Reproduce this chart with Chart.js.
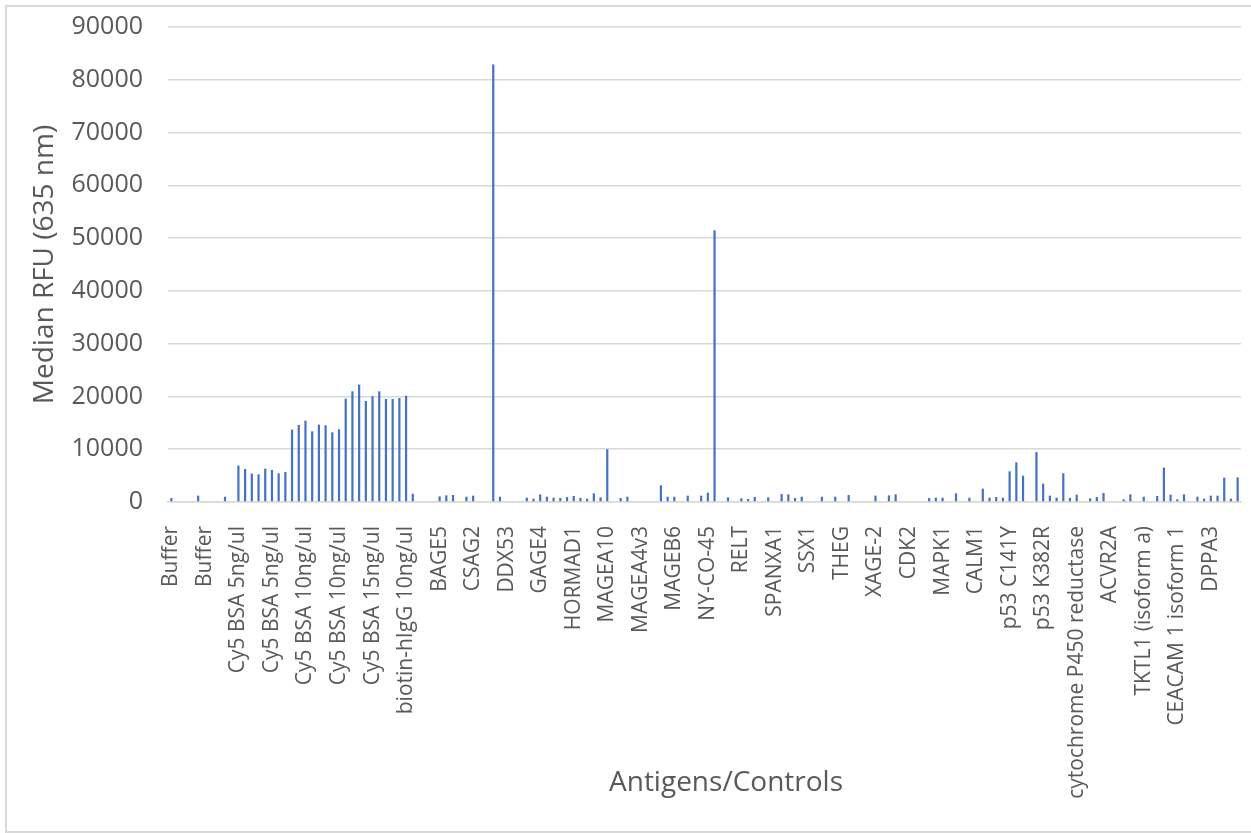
<!DOCTYPE html>
<html>
<head>
<meta charset="utf-8">
<script src="https://cdn.jsdelivr.net/npm/chart.js@4"></script>
<style>
    html, body { margin: 0; padding: 0; background: #fff; overflow: hidden; }
    #frame {
        position: absolute; left: 5px; top: 5px;
        width: 1300px; height: 824px;
        border: 2px solid #d9d9d9;
    }
    #rfuChart { position: absolute; left: 0; top: 0; }
</style>
</head>
<body>
<div id="frame"></div>
<canvas id="rfuChart" width="1251" height="833"></canvas>
<script>
// Axis labels shown under every fifth spot on the array
const tickLabels = [
    'Buffer', 'Buffer', 'Cy5 BSA 5ng/ul', 'Cy5 BSA 5ng/ul', 'Cy5 BSA 10ng/ul',
    'Cy5 BSA 10ng/ul', 'Cy5 BSA 15ng/ul', 'biotin-hIgG 10ng/ul', 'BAGE5', 'CSAG2',
    'DDX53', 'GAGE4', 'HORMAD1', 'MAGEA10', 'MAGEA4v3', 'MAGEB6', 'NY-CO-45',
    'RELT', 'SPANXA1', 'SSX1', 'THEG', 'XAGE-2', 'CDK2', 'MAPK1', 'CALM1',
    'p53 C141Y', 'p53 K382R', 'cytochrome P450 reductase', 'ACVR2A',
    'TKTL1 (isoform a)', 'CEACAM 1 isoform 1', 'DPPA3'
];
const labelEvery = 5;

// Median RFU per spot, 160 spots (null = no value)
const medianRFU = [
    760, null, null, null, 1200, null, null, null, 1000, null,
    6900, 6250, 5370, 5240, 6320, 6060, 5430, 5690, 13710, 14590,
    15410, 13390, 14660, 14530, 13200, 13770, 19580, 20970, 22240, 19140,
    20030, 20970, 19520, 19520, 19710, 20150, 1580, null, null, null,
    1070, 1260, 1330, null, 1000, 1200, null, null, 82900, 1000,
    null, null, null, 820, 630, 1450, 1000, 820, 760, 950,
    1140, 760, 630, 1640, 880, 10000, null, 760, 1000, null,
    null, null, null, 3160, 1000, 1000, null, 1200, null, 1200,
    1770, 51500, null, 880, null, 700, 570, 950, null, 880,
    null, 1500, 1450, 760, 1000, null, null, 1000, null, 1000,
    null, 1330, null, null, null, 1200, null, 1260, 1450, null,
    null, null, null, 760, 820, 820, null, 1640, null, 820,
    null, 2530, 820, 950, 820, 5810, 7520, 4990, null, 9470,
    3470, 1200, 820, 5430, 760, 1390, null, 700, 950, 1710,
    null, null, 500, 1450, null, 1000, null, 1140, 6510, 1390,
    500, 1450, null, 1000, 630, 1200, 1200, 4610, 630, 4670
];

const yMax = 90000;
const yStep = 10000;
const xTitle = 'Antigens/Controls';
const yTitle = 'Median RFU (635 nm)';

const categories = medianRFU.map((v, i) =>
    i % labelEvery === 0 ? tickLabels[i / labelEvery] : '');

const textColor = '#595959';
const gridColor = '#d9d9d9';

// x axis title sits a little right of the plot centre
const xTitlePlugin = {
    id: 'xTitle',
    afterDraw(chart) {
        const ctx = chart.ctx;
        ctx.save();
        ctx.font = '28px "Open Sans"';
        ctx.fillStyle = textColor;
        ctx.textAlign = 'center';
        ctx.textBaseline = 'middle';
        ctx.fillText(xTitle, 726, 783);
        ctx.restore();
    }
};

const rfuChart = new Chart(document.getElementById('rfuChart'), {
    type: 'bar',
    data: {
        labels: categories,
        datasets: [{
            label: yTitle,
            data: medianRFU,
            backgroundColor: '#4472c4',
            borderWidth: 0,
            barPercentage: 0.33,
            categoryPercentage: 1
        }]
    },
    options: {
        responsive: false,
        animation: false,
        layout: {
            padding: { top: 27, right: 10, bottom: 0, left: 0 }
        },
        plugins: {
            legend: { display: false },
            tooltip: { enabled: false }
        },
        scales: {
            x: {
                grid: { display: false, drawTicks: false },
                border: { display: true, color: gridColor, width: 1.5 },
                ticks: {
                    autoSkip: false,
                    maxRotation: 90,
                    minRotation: 90,
                    padding: 24,
                    color: textColor,
                    font: { family: 'Open Sans', size: 21 }
                },
                afterFit(scale) {
                    scale.height = 331;
                    scale.paddingLeft = 0;
                    scale.paddingRight = 0;
                }
            },
            y: {
                min: 0,
                max: yMax,
                grid: { color: gridColor, lineWidth: 1.5, drawTicks: false },
                border: { display: false },
                ticks: {
                    stepSize: yStep,
                    padding: 25,
                    color: textColor,
                    font: { family: 'Open Sans', size: 25 },
                    callback: v => String(v)
                },
                title: {
                    display: true,
                    text: yTitle,
                    color: textColor,
                    font: { family: 'Open Sans', size: 28 },
                    padding: { top: 28, bottom: 0 }
                },
                afterFit(scale) {
                    scale.width = 168;
                    scale.paddingTop = 0;
                    scale.paddingBottom = 0;
                }
            }
        }
    },
    plugins: [xTitlePlugin]
});
</script>
</body>
</html>
